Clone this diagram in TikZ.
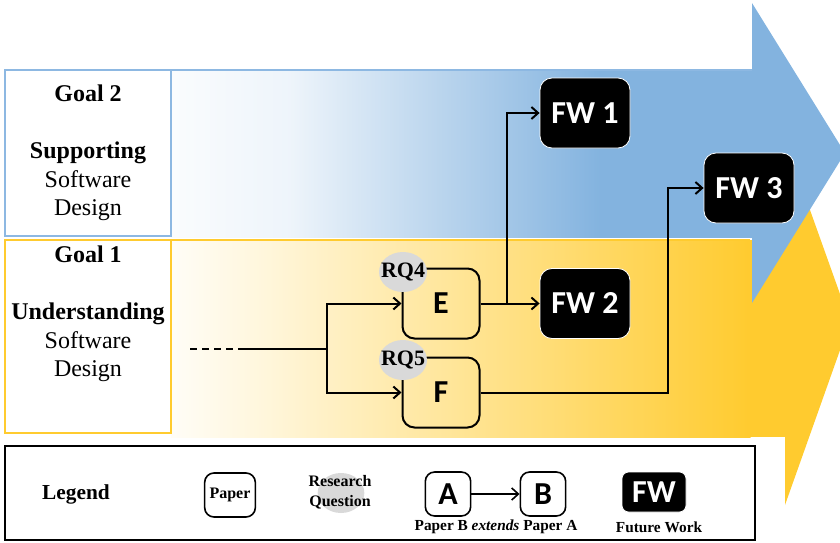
\documentclass[tikz,border=0pt]{standalone}
\usepackage{fontspec}
\setmainfont{Liberation Serif}
\newfontfamily\calibri{Carlito}
\usepackage{tikz}
\usetikzlibrary{
  shapes.geometric, arrows.meta, positioning, calc
}
\definecolor{goalblue}{HTML}{83B3DF}
\definecolor{goalblueline}{HTML}{8DB8E2}
\definecolor{goalyellow}{HTML}{FFCB2F}
\definecolor{rqgray}{HTML}{D9D9D9}

\begin{document}
\begin{tikzpicture}[x=0.75pt, y=-0.75pt,
  paperbox/.style={draw=black, line width=1.5pt, rounded corners=9pt,
    minimum width=57.75pt, minimum height=52.5pt,
    font=\calibri\bfseries\fontsize{24}{28}\selectfont},
  fwbox/.style={draw=white, line width=0.6pt, fill=black, text=white,
    rounded corners=9pt, minimum width=67.5pt, minimum height=52.5pt,
    font=\calibri\bfseries\fontsize{24}{28}\selectfont},
  rqblob/.style={ellipse, fill=rqgray, minimum width=36pt,
    minimum height=30pt, inner sep=0pt},
  rqtext/.style={font=\bfseries\fontsize{16.5}{18}\selectfont, inner sep=0pt},
  goaltext/.style={align=center, font=\fontsize{18}{21.4}\selectfont},
  legtext/.style={font=\bfseries\fontsize{11.5}{14.5}\selectfont, align=center},
  link/.style={line width=1.5pt, -{Straight Barb[length=5pt,width=9pt]}}
]
\useasboundingbox (0,0) rectangle (840,543);

% goal 1 arrow
\fill[goalyellow] (750,240) rectangle (785,437);
\fill[goalyellow] (785,140) -- (850,322) -- (785,505) -- cycle;
\shade[left color=goalyellow!4, right color=goalyellow!18] (171,240) rectangle (270,437);
\shade[left color=goalyellow!18, right color=goalyellow] (270,240) rectangle (750.5,437);
% goal 2 arrow
\shade[left color=goalblue!4, right color=goalblue!14] (171,70) rectangle (290,237);
\shade[left color=goalblue!14, right color=goalblue] (290,70) rectangle (600.5,237);
\fill[goalblue] (600,69) rectangle (752,238);
\fill[goalblue] (752,3) -- (845,153) -- (752,303) -- cycle;
\draw[goalblueline, line width=1.5pt] (171,70) -- (752,70);
\draw[goalyellow, line width=1.5pt] (171,240) -- (750,240);

% goal boxes
\draw[goalblueline, line width=1.5pt, fill=white] (5,70) rectangle (171,236);
\draw[goalyellow, line width=1.5pt, fill=white] (5,240) rectangle (171,433);
\node[goaltext] (goal2) at (88,153) {\textbf{Goal 2}\\[21.4pt]\textbf{Supporting}\\Software\\Design};
\node[goaltext] (goal1) at (88,314) {\textbf{Goal 1}\\[21.4pt]\textbf{Understanding}\\Software\\Design};

% papers
\node[paperbox] (E) at (441,303.5) {E};
\node[paperbox] (F) at (441,392.5) {F};
\node[rqblob] (rq4) at (403,272) {};
\node[rqtext] at (rq4) {RQ4};
\node[rqblob] (rq5) at (403,360) {};
\node[rqtext] at (rq5) {RQ5};

% future work
\node[fwbox] (FW1) at (585,113) {FW 1};
\node[fwbox] (FW2) at (585,303.5) {FW 2};
\node[fwbox] (FW3) at (749,188) {FW 3};

% connectors
\coordinate (start) at (190,349);
\coordinate (dashend) at (245,349);
\coordinate (split) at (327,349);
\coordinate (fwturn) at (668,392.5);
\draw[line width=1.5pt, dash pattern=on 5pt off 4pt] (start) -- (dashend);
\draw[line width=1.5pt] (dashend) -- (split);
\draw[link] (split) |- (E.west);
\draw[link] (split) |- (F.west);
\draw[link] (E.east) -- (FW2.west);
\draw[link] ($(E.east)!0.45!(FW2.west)$) |- (FW1.west);
\draw[link] (F.east) -- (fwturn) |- (FW3.west);

% legend
\draw[line width=1.2pt] (5,446) rectangle (755,540);
\node[font=\bfseries\fontsize{16}{18}\selectfont] (legend) at (76,494) {Legend};
\node[draw=black, line width=1.2pt, rounded corners=7pt, minimum width=38pt,
  minimum height=33pt, inner sep=1pt, font=\bfseries\fontsize{12}{14}\selectfont]
  (lpaper) at (230,495) {Paper};
\node[rqblob, minimum width=35pt, minimum height=30pt] (lrq) at (341,493) {};
\node[legtext, font=\bfseries\fontsize{12}{15}\selectfont] (lrqtext) at (340,492) {Research\\Question};
\node[paperbox, line width=1.2pt, rounded corners=7pt, minimum width=34pt,
  minimum height=33pt, inner sep=1pt]
  (la) at (448,494) {A};
\node[paperbox, line width=1.2pt, rounded corners=7pt, minimum width=34pt,
  minimum height=33pt, inner sep=1pt]
  (lb) at (543,494) {B};
\draw[link, line width=1.2pt] (la) -- (lb);
\node[legtext] (lext) at (496,527) {Paper B \textit{extends} Paper A};
\node[fwbox, minimum width=48pt, minimum height=30pt, inner sep=1pt,
  rounded corners=5pt] (lfw) at (654,492) {FW};
\node[legtext] (lfwtext) at (659,527) {Future Work};
\end{tikzpicture}
\end{document}
